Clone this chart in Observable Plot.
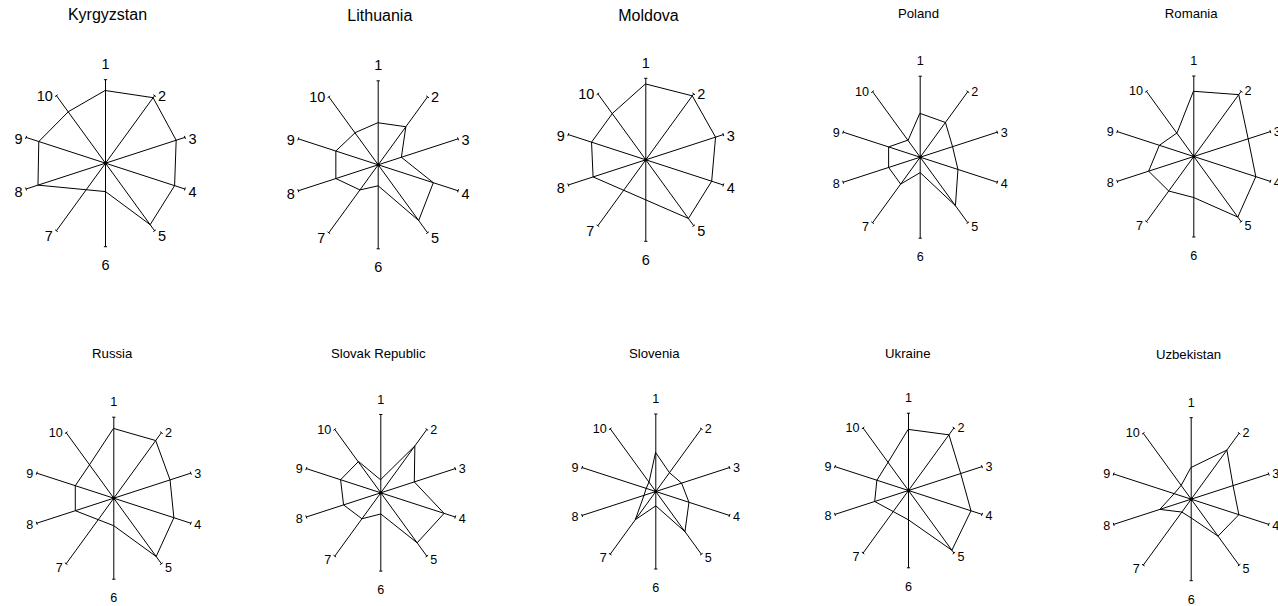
<!DOCTYPE html>
<html>
<head>
<meta charset="utf-8">
<script src="https://cdn.jsdelivr.net/npm/d3@7"></script>
<script src="https://cdn.jsdelivr.net/npm/@observablehq/plot@0.6"></script>
<style>
  html, body { margin: 0; padding: 0; background: #fff; overflow: hidden; }
  #wrap { position: relative; width: 1278px; height: 606px; overflow: hidden; background: #fff; }
  .cell { position: absolute; }
</style>
</head>
<body>
<div id="wrap"></div>
<script>
// ---- data ----
const countries = ["Kyrgyzstan", "Lithuania", "Moldova", "Poland", "Romania",
                   "Russia", "Slovak Republic", "Slovenia", "Ukraine", "Uzbekistan"];
const spokes = ["1", "2", "3", "4", "5", "6", "7", "8", "9", "10"];
// values along each spoke (fraction of the axis length); null = not plotted
const kyrgyzstan = [0.87, 0.97, 0.89, 0.87, 0.91, 0.34, null, 0.85, 0.84, 0.76];
const lithuania  = [0.50, 0.56, 0.29, 0.69, 0.82, 0.25, 0.37, 0.53, 0.53, 0.47];
const moldova    = [0.93, 0.97, 0.90, 0.85, 0.89, null, null, 0.68, 0.70, 0.70];
const poland     = [0.54, 0.53, 0.42, 0.49, 0.74, 0.19, 0.41, 0.41, 0.41, 0.26];
const romania    = [0.81, 0.95, 0.71, 0.81, 0.93, 0.51, 0.53, 0.59, 0.45, 0.36];
const russia     = [0.86, 0.88, 0.73, 0.78, 0.89, 0.34, null, 0.50, 0.50, 0.51];
const slovakia   = [0.17, 0.74, 0.45, 0.85, 0.79, 0.27, 0.41, 0.50, 0.54, 0.49];
const slovenia   = [0.50, 0.30, 0.35, 0.45, 0.64, 0.185, 0.45, 0.16, 0.13, 0.15];
const ukraine    = [0.79, 0.89, 0.71, 0.85, 0.955, 0.38, null, 0.46, 0.43, 0.45];
const uzbekistan = [0.39, 0.745, 0.54, 0.615, 0.56, 0.23, 0.195, 0.405, 0.22, 0.21];
const series = [kyrgyzstan, lithuania, moldova, poland, romania,
                russia, slovakia, slovenia, ukraine, uzbekistan];

// ---- layout (page pixels) ----
const panelCx    = [105, 377.7, 645.3, 919.7, 1193.3, 113.3, 380.3, 655.3, 908, 1190.7];
const panelCy    = [162.7, 164.3, 159.3, 156.7, 156, 497.7, 492.3, 491, 490, 498.7];
const panelR     = [83.5, 84, 81.5, 81, 80.5, 81, 78.3, 77.5, 77.3, 81.5];
const titleX     = [107, 379.3, 648, 918, 1190.7, 111.7, 377.7, 653.7, 907.3, 1188];
const titleBase  = [19, 20.5, 20, 17.3, 17.5, 357.3, 357.3, 357.3, 357.3, 358.3];
const bigPanel   = [true, true, true, false, false, false, false, false, false, false];

const FONT = "'Liberation Sans', Arial, Helvetica, sans-serif";
const wrap = document.getElementById("wrap");
const CW = 1278 / 5, CH = 606 / 2;

countries.forEach((name, i) => {
  const col = i % 5, row = Math.floor(i / 5);
  const ox = Math.round(col * CW), oy = Math.round(row * CH);
  const W = Math.round((col + 1) * CW) - ox, H = Math.round((row + 1) * CH) - oy;
  const R = panelR[i], cx = panelCx[i] - ox, cy = panelCy[i] - oy;
  const big = bigPanel[i];
  const labSize = big ? 14.5 : 12.6;
  const titleSize = big ? 16 : 13.2;
  // vertical nudges (px) for side labels by ring position 1..4
  const sideDy = big ? [0.8, 2, 3.6, 5.2] : [0, 0.3, 2, 4];

  const spokeData = spokes.map((s, k) => ({label: s, k, a: k * 2 * Math.PI / 10}));
  const sx = d => Math.sin(d.a), sy = d => Math.cos(d.a);
  const pts = spokeData.map(d => ({...d, v: series[i][d.k]})).filter(d => d.v != null);
  const half = 1.6 / R; // half length of end ticks

  const right = spokeData.filter(d => d.k >= 1 && d.k <= 4);
  const left = spokeData.filter(d => d.k >= 6);
  const top = spokeData.filter(d => d.k === 0);
  const bottom = spokeData.filter(d => d.k === 5);
  const ring = d => (d.k <= 5 ? d.k : 10 - d.k) - 1;

  const chart = Plot.plot({
    width: W, height: H,
    marginTop: 0, marginRight: 0, marginBottom: 0, marginLeft: 0,
    x: {domain: [-1, 1], range: [cx - R, cx + R], axis: null},
    y: {domain: [-1, 1], range: [cy + R, cy - R], axis: null},
    style: {fontFamily: FONT, background: "white", overflow: "visible", color: "black"},
    marks: [
      Plot.link(spokeData, {x1: () => 0, y1: () => 0, x2: sx, y2: sy, stroke: "black", strokeWidth: 1}),
      Plot.link(spokeData, {
        x1: d => sx(d) - half * Math.cos(d.a), y1: d => sy(d) + half * Math.sin(d.a),
        x2: d => sx(d) + half * Math.cos(d.a), y2: d => sy(d) - half * Math.sin(d.a),
        stroke: "black", strokeWidth: 1
      }),
      Plot.line(pts, {x: d => d.v * sx(d), y: d => d.v * sy(d), curve: "linear-closed",
                      stroke: "black", strokeWidth: 1}),
      Plot.dot([0], {x: () => 0, y: () => 0, r: 1.7, fill: "black"}),
      Plot.text(right, {x: sx, y: d => sy(d) - sideDy[ring(d)] / R, text: "label",
                        textAnchor: "start", lineAnchor: "middle", dx: 3.5, fontSize: labSize, fill: "black"}),
      Plot.text(left, {x: sx, y: d => sy(d) - sideDy[ring(d)] / R, text: "label",
                       textAnchor: "end", lineAnchor: "middle", dx: -3.5, fontSize: labSize, fill: "black"}),
      Plot.text(top, {x: sx, y: sy, text: "label", textAnchor: "middle", lineAnchor: "middle",
                      dy: -15, fontSize: labSize, fill: "black"}),
      Plot.text(bottom, {x: sx, y: sy, text: "label", textAnchor: "middle", lineAnchor: "middle",
                         dy: 19, fontSize: labSize, fill: "black"}),
      Plot.text([name], {x: () => (titleX[i] - panelCx[i]) / R, frameAnchor: "top",
                         dy: titleBase[i] - oy, text: d => d, textAnchor: "middle",
                         lineAnchor: "bottom", fontSize: titleSize, fill: "black"})
    ]
  });
  const cell = document.createElement("div");
  cell.className = "cell";
  cell.style.left = ox + "px";
  cell.style.top = oy + "px";
  cell.style.width = W + "px";
  cell.style.height = H + "px";
  cell.appendChild(chart);
  wrap.appendChild(cell);
});
</script>
</body>
</html>
